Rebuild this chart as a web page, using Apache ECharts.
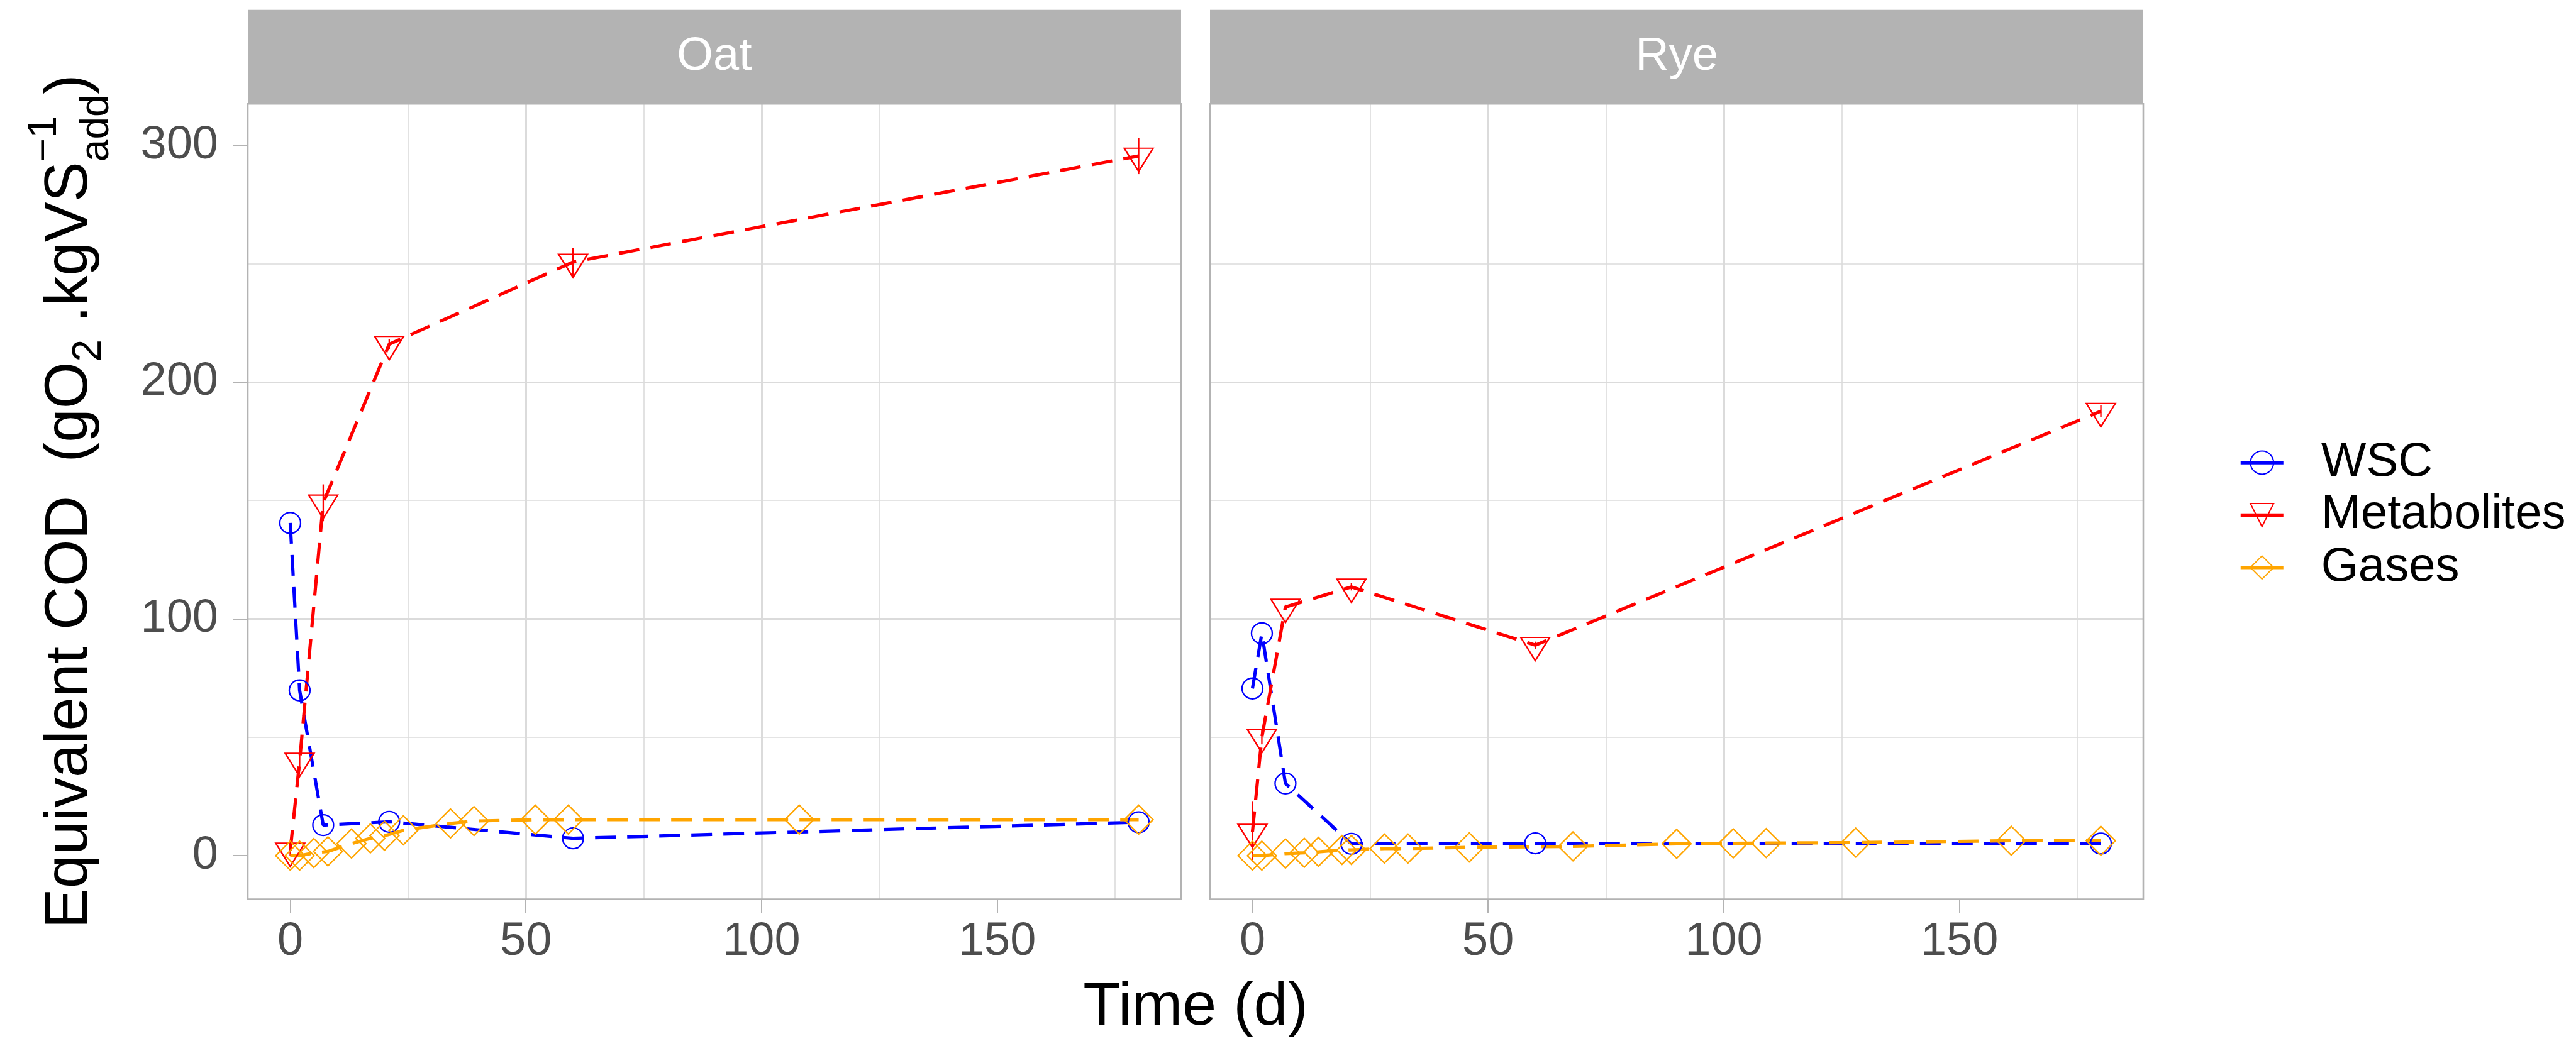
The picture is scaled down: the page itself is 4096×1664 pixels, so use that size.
<!DOCTYPE html>
<html>
<head>
<meta charset="utf-8">
<script src="https://cdn.jsdelivr.net/npm/echarts@6/dist/echarts.min.js"></script>
<style>
  html, body { margin: 0; padding: 0; background: #fff; }
  #main { width: 4096px; height: 1664px; }
</style>
</head>
<body>
<div id="main"></div>
<script>
// sampling days for WSC / metabolites
var days = [0, 2, 7, 21, 60, 180];

var oatWsc = [140.5, 69.8, 12.9, 14.3, 7.3, 14.1];
var oatMet = [2, 40, 149, 216, 250.7, 295.5];
var oatMetSd = [2, 4, 7.8, 2, 6, 7.7];

var ryeWsc = [70.6, 93.9, 30.5, 5.0, 5.2, 5.1];
var ryeMet = [10, 50, 105, 113.5, 88.9, 187.7];
var ryeMetSd = [12.8, 3, 1, 1.5, 1.5, 2.6];

// gas measurements are on their own days
var oatGasDays = [0, 2, 5, 8, 13, 17, 20, 24, 34, 39, 52, 59, 108, 180];
var oatGas = [0, 0, 1.1, 1.8, 5.1, 7.3, 8.4, 10.7, 13.6, 14.6, 15.2, 15.2, 15.2, 15.2];
var ryeGasDays = [0, 2, 7, 11, 14, 19, 21, 28, 33, 46, 68, 90, 102, 109, 128, 161, 180];
var ryeGas = [0, 0, 0.9, 1.2, 1.6, 2.4, 2.4, 3.0, 3.0, 3.5, 3.9, 5.0, 5.2, 5.3, 5.5, 6.3, 6.3];

var panels = ['Oat', 'Rye'];
var seriesNames = ['WSC', 'Metabolites', 'Gases'];
var xTicks = [0, 50, 100, 150];
var yTicks = [0, 100, 200, 300];

var FONT = '"Liberation Sans", Arial, Helvetica, sans-serif';
var BLUE = '#0000FF', RED = '#FF0000', ORANGE = '#FFA500';
var GRID = '#DBDBDB';

// layout (px)
var top0 = 165.2, panelH = 1265.3, panelW = 1484;
var lefts = [394, 1924];
var stripTop = 15.7;

var triPath = 'path://M0,0L10,0L5,8.66Z';

function pairs(xs, ys) {
  return xs.map(function (d, i) { return [d, ys[i]]; });
}

function lineSeries(name, gi, data, color, symbol, size, offset) {
  return {
    type: 'line', name: name, xAxisIndex: gi, yAxisIndex: gi,
    data: data,
    symbol: symbol, symbolSize: size, symbolOffset: offset || [0, 0],
    showAllSymbol: true,
    lineStyle: { color: color, width: 5.2, type: [33, 18], cap: 'butt' },
    itemStyle: { color: 'rgba(0,0,0,0)', borderColor: color, borderWidth: 2.3 },
    emphasis: { disabled: true },
    silent: true
  };
}

function errSeries(gi, vals, sd) {
  return {
    type: 'custom', xAxisIndex: gi, yAxisIndex: gi, silent: true,
    data: days.map(function (d, i) { return [d, vals[i] - sd[i], vals[i] + sd[i]]; }),
    encode: { x: 0, y: [1, 2] },
    renderItem: function (params, api) {
      var lo = api.coord([api.value(0), api.value(1)]);
      var hi = api.coord([api.value(0), api.value(2)]);
      return {
        type: 'line',
        shape: { x1: lo[0], y1: lo[1], x2: hi[0], y2: hi[1] },
        style: { stroke: RED, lineWidth: 2.3 }
      };
    }
  };
}

var wsc = [oatWsc, ryeWsc], met = [oatMet, ryeMet], metSd = [oatMetSd, ryeMetSd];
var gasDays = [oatGasDays, ryeGasDays], gas = [oatGas, ryeGas];

var grids = [], xAxes = [], yAxes = [], series = [], graphics = [];

panels.forEach(function (p, gi) {
  grids.push({ left: lefts[gi], top: top0, width: panelW, height: panelH, show: false });
  xAxes.push({
    type: 'value', gridIndex: gi, min: -9, max: 189, splitNumber: 4,
    axisLine: { show: false, onZero: false },
    axisTick: { show: true, length: 22, customValues: xTicks, lineStyle: { color: '#B3B3B3', width: 2 } },
    axisLabel: {
      customValues: xTicks, fontSize: 74, color: '#4D4D4D', fontFamily: FONT, margin: 31,
      formatter: function (v) { return v % 50 === 0 ? String(v) : ''; }
    },
    splitLine: { show: true, showMinLine: false, showMaxLine: false, lineStyle: { color: GRID, width: 3 } },
    minorTick: { show: false, splitNumber: 2 },
    minorSplitLine: { show: true, lineStyle: { color: GRID, width: 1.6 } }
  });
  yAxes.push({
    type: 'value', gridIndex: gi, min: -18.4, max: 317.5, splitNumber: 3,
    axisLine: { show: false, onZero: false },
    axisTick: { show: gi === 0, length: 24, customValues: yTicks, lineStyle: { color: '#B3B3B3', width: 2 } },
    axisLabel: {
      show: gi === 0, customValues: yTicks, fontSize: 74, color: '#4D4D4D', fontFamily: FONT, margin: 47,
      formatter: function (v) { return v % 100 === 0 ? String(v) : ''; }
    },
    splitLine: { show: true, showMinLine: false, showMaxLine: false, lineStyle: { color: GRID, width: 3 } },
    minorTick: { show: false, splitNumber: 2 },
    minorSplitLine: { show: true, lineStyle: { color: GRID, width: 1.6 } }
  });

  series.push(lineSeries('WSC', gi, pairs(days, wsc[gi]), BLUE, 'circle', 33));
  series.push(errSeries(gi, met[gi], metSd[gi]));
  series.push(lineSeries('Metabolites', gi, pairs(days, met[gi]), RED, triPath, [46, 37], [0, 6.2]));
  series.push(lineSeries('Gases', gi, pairs(gasDays[gi], gas[gi]), ORANGE, 'diamond', 46));

  // strip header
  graphics.push({
    type: 'rect', z: 5,
    shape: { x: lefts[gi], y: stripTop, width: panelW, height: top0 - stripTop },
    style: { fill: '#B3B3B3' }
  });
  graphics.push({
    type: 'text', z: 6, x: lefts[gi] + panelW / 2, y: (stripTop + top0) / 2,
    style: { text: p, fill: '#FFFFFF', font: '74px ' + FONT,
      align: 'center', verticalAlign: 'middle', textAlign: 'center', textVerticalAlign: 'middle' }
  });
  // panel border
  graphics.push({
    type: 'rect', z: 20, silent: true,
    shape: { x: lefts[gi], y: top0, width: panelW, height: panelH },
    style: { fill: null, stroke: '#B3B3B3', lineWidth: 2.6 }
  });
});

// x-axis title
graphics.push({
  type: 'text', x: (lefts[0] + lefts[1] + panelW) / 2, y: 1603,
  style: { text: 'Time (d)', fill: '#000', font: '97px ' + FONT,
    align: 'center', verticalAlign: 'middle', textAlign: 'center', textVerticalAlign: 'middle' }
});

// y-axis title built from pieces (subscripts / superscript)
var F = 96, S = 64;
var ctx = document.createElement('canvas').getContext('2d');
function tw(s, size) { ctx.font = size + 'px ' + FONT; return ctx.measureText(s).width; }
var pieces = [], cx = 0;
function put(t, size, shift) { pieces.push({ t: t, size: size, x: cx, shift: shift }); }
put('Equivalent COD  (gO', F, 0); cx += tw('Equivalent COD  (gO', F);
put('2', S, 0.2 * F); cx += tw('2', S);
put(' .kgVS', F, 0); cx += tw(' .kgVS', F);
put('add', S, 0.33 * F); put('\u22121', S, -0.54 * F);
cx += Math.max(tw('add', S), tw('\u22121', S));
put(')', F, 0); cx += tw(')', F);
var half = cx / 2;
graphics.push({
  type: 'group', x: 145, y: top0 + panelH / 2, rotation: Math.PI / 2,
  children: pieces.map(function (pc) {
    return {
      type: 'text', x: pc.x - half, y: pc.shift - 0.3465 * pc.size,
      style: { text: pc.t, fill: '#000', font: pc.size + 'px ' + FONT,
        align: 'left', verticalAlign: 'middle', textAlign: 'left', textVerticalAlign: 'middle' }
    };
  })
});

var chart = echarts.init(document.getElementById('main'));
chart.setOption({
  animation: false,
  backgroundColor: '#fff',
  grid: grids,
  xAxis: xAxes,
  yAxis: yAxes,
  legend: {
    data: seriesNames, orient: 'vertical', left: 3560, top: 694.3, padding: 0,
    itemWidth: 68, itemHeight: 46, itemGap: 0, selectedMode: false,
    textStyle: { fontSize: 76, lineHeight: 83.4, color: '#000', fontFamily: FONT, padding: [0, 0, 0, 55] },
    lineStyle: { type: 'solid', width: 5.5 }
  },
  series: series,
  graphic: graphics
});
</script>
</body>
</html>
